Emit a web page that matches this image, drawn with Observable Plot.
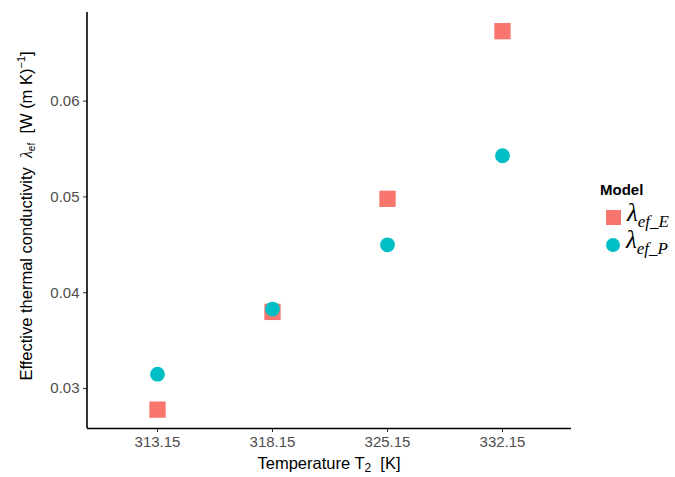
<!DOCTYPE html>
<html><head><meta charset="utf-8">
<script src="https://cdn.jsdelivr.net/npm/d3@7"></script>
<script src="https://cdn.jsdelivr.net/npm/@observablehq/plot@0.6"></script>
<style>
body{margin:0;background:#fff;}
#wrap{position:relative;width:675px;height:477px;overflow:hidden;}
#legend{position:absolute;left:600px;top:181px;font-family:"Liberation Sans",Arial,sans-serif;color:#000;}
#legend .title{font-size:15px;font-weight:bold;margin-bottom:6px;}
#legend .row{display:flex;align-items:center;height:27px;}
#legend .key{width:15px;height:15px;margin-left:6px;margin-right:6px;}
#legend .lab{font-family:"Liberation Serif","Times New Roman",serif;font-style:italic;font-size:25px;line-height:24px;}
#legend .lab sub{font-size:17px;vertical-align:-6px;}
</style></head><body><div id="wrap"></div>
<script>
const temperatures = ["313.15", "318.15", "325.15", "332.15"];
const lambdaE = [0.0278, 0.0380, 0.0498, 0.0673];
const lambdaP = [0.0315, 0.0383, 0.0450, 0.0543];
const yTicks = [0.03, 0.04, 0.05, 0.06];
const modelKeys = ["E", "P"];
const modelColors = ["#F8766D", "#00BFC4"];
const yDomain = [0.02583, 0.06925];

const rowsE = temperatures.map((t, i) => ({T: t, value: lambdaE[i], model: "E"}));
const rowsP = temperatures.map((t, i) => ({T: t, value: lambdaP[i], model: "P"}));

// left axis line drawn from the frame dimensions
function leftAxisLine(index, scales, values, dims) {
  const line = document.createElementNS("http://www.w3.org/2000/svg", "line");
  line.setAttribute("x1", dims.marginLeft);
  line.setAttribute("x2", dims.marginLeft);
  line.setAttribute("y1", dims.marginTop);
  line.setAttribute("y2", dims.height - dims.marginBottom);
  line.setAttribute("stroke", "#000");
  line.setAttribute("stroke-width", 1.6);
  return line;
}

const chart = Plot.plot({
  width: 675, height: 477,
  marginLeft: 87, marginRight: 104, marginTop: 12, marginBottom: 49,
  style: {fontFamily: "Liberation Sans, Arial, sans-serif", fontSize: "15px", background: "white", color: "#4d4d4d"},
  x: {type: "point", domain: temperatures, padding: 0.6, label: null},
  y: {domain: yDomain, label: null},
  color: {domain: modelKeys, range: modelColors},
  marks: [
    Plot.axisX({ticks: temperatures, tickSize: 4, tickPadding: 4, stroke: "#333", fill: "#4d4d4d", label: null}),
    Plot.axisY({ticks: yTicks, tickFormat: d => d.toFixed(2), tickSize: 4, tickPadding: 4, stroke: "#333", fill: "#4d4d4d", label: null}),
    leftAxisLine,
    Plot.ruleY([yDomain[0]], {stroke: "#000", strokeWidth: 1.6}),
    Plot.dot(rowsE, {x: "T", y: "value", fill: "model", symbol: "square", r: 9.2}),
    Plot.dot(rowsP, {x: "T", y: "value", fill: "model", symbol: "circle", r: 7.4})
  ]
});

document.getElementById("wrap").appendChild(chart);

const svg = d3.select(chart);
// x axis title
const xt = svg.append("text")
  .attr("x", 329).attr("y", 469)
  .attr("text-anchor", "middle")
  .attr("font-family", "Liberation Sans, Arial, sans-serif")
  .attr("font-size", 16.5).attr("fill", "#000");
xt.append("tspan").text("Temperature T");
xt.append("tspan").attr("font-size", 12).attr("dy", 3).text("2");
xt.append("tspan").attr("dy", -3).text("\u00a0\u00a0[K]");

// y axis title
const yt = svg.append("text")
  .attr("transform", "translate(32,216) rotate(-90)")
  .attr("text-anchor", "middle")
  .attr("font-family", "Liberation Sans, Arial, sans-serif")
  .attr("font-size", 16.5).attr("fill", "#000");
yt.append("tspan").text("Effective thermal conductivity\u00a0\u00a0");
yt.append("tspan").attr("font-family", "Liberation Serif, serif").attr("font-style", "italic").attr("font-size", 16).text("λ");
yt.append("tspan").attr("font-size", 10).attr("dy", 3).text("ef");
yt.append("tspan").attr("dy", -3).text("\u00a0\u00a0[W (m K)");
yt.append("tspan").attr("font-size", 11).attr("dy", -7).text("\u22121");
yt.append("tspan").attr("dy", 7).text("]");

// legend
const legend = document.createElement("div");
legend.id = "legend";
let html = '<div class="title">Model</div>';
modelKeys.forEach((k, i) => {
  const shape = k === "E"
    ? `<div class="key" style="background:${modelColors[i]}"></div>`
    : `<div class="key" style="background:${modelColors[i]};border-radius:50%;width:14px;height:14px"></div>`;
  html += `<div class="row">${shape}<span class="lab">λ<sub>ef_${k}</sub></span></div>`;
});
legend.innerHTML = html;
document.getElementById("wrap").appendChild(legend);
</script>
</body></html>
